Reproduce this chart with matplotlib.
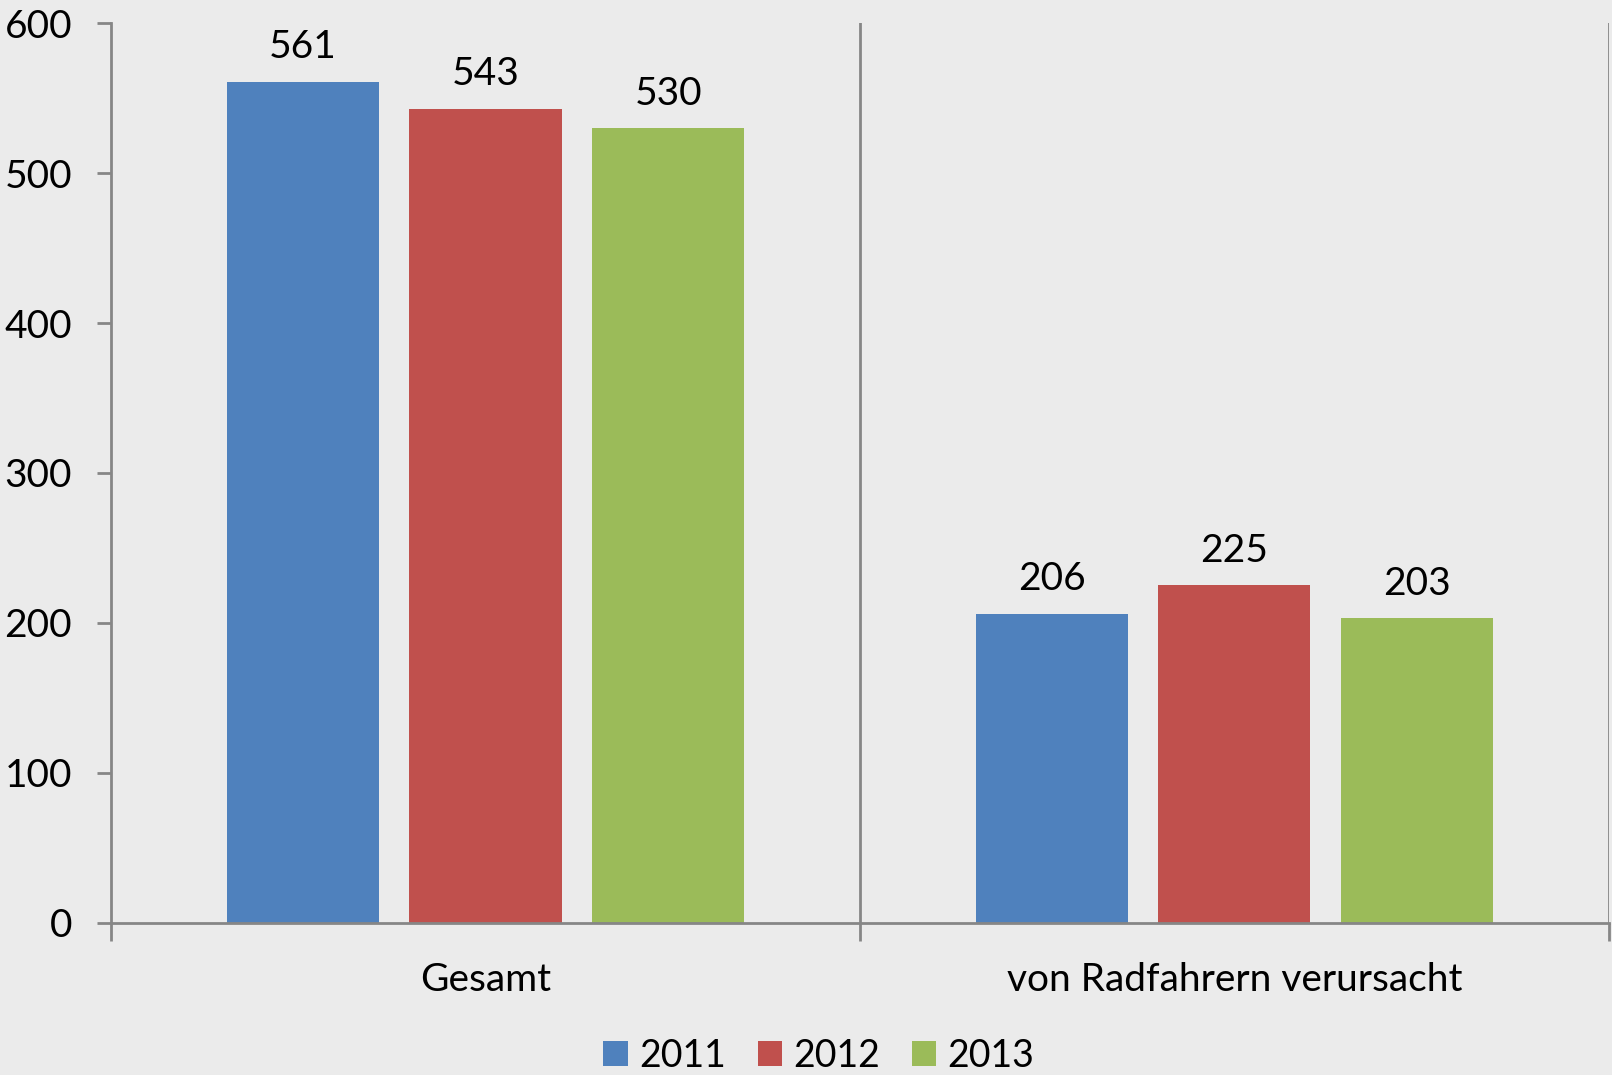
import matplotlib
matplotlib.use("Agg")
import matplotlib.pyplot as plt
import numpy as np

plt.rcParams['font.family'] = ['Lato', 'DejaVu Sans']

# data
categories = ["Gesamt", "von Radfahrern verursacht"]
years = ["2011", "2012", "2013"]
values_2011 = [561, 206]
values_2012 = [543, 225]
values_2013 = [530, 203]
colors = ["#4F81BD", "#C0504D", "#9BBB59"]
bg = "#EBEBEB"
axis_grey = "#868686"

series = [values_2011, values_2012, values_2013]

fig = plt.figure(figsize=(16.12, 10.75), dpi=100, facecolor=bg)
ax = fig.add_axes([0.0689, 0.1414, 0.9291, 0.8372])
ax.set_facecolor(bg)

x = np.arange(len(categories))
width = 0.203
step = 0.244
for k in range(3):
    pos = x + (k - 1) * step
    bars = ax.bar(pos, series[k], width, color=colors[k], label=years[k], zorder=3)
    for b, v in zip(bars, series[k]):
        ax.text(b.get_x() + b.get_width() / 2, v + 11, str(v),
                ha="center", va="bottom", fontsize=28, color="black")

ax.set_xlim(-0.5, 1.5)
ax.set_ylim(0, 600)
ax.set_yticks(range(0, 601, 100))
ax.tick_params(axis="y", labelsize=28, length=10, width=2, color=axis_grey, pad=18)

# category boundaries: ticks and vertical lines
ax.set_xticks([-0.5, 0.5, 1.5])
ax.set_xticklabels([])
ax.tick_params(axis="x", length=13, width=2, color=axis_grey)
for xb in [0.5, 1.5]:
    ax.axvline(xb, color=axis_grey, lw=2, zorder=2)
for i, c in enumerate(categories):
    ax.text(i, -38, c, ha="center", va="center", fontsize=28,
            transform=ax.transData)

for s in ["top", "right"]:
    ax.spines[s].set_visible(False)
for s in ["left", "bottom"]:
    ax.spines[s].set_color(axis_grey)
    ax.spines[s].set_linewidth(2)
    ax.spines[s].set_zorder(4)

leg = fig.legend(loc="center", bbox_to_anchor=(0.508, 0.018), ncol=3, frameon=False,
                 fontsize=27, handlelength=0.65, handleheight=0.65,
                 handletextpad=0.3, columnspacing=0.85)

fig.savefig("out.png", dpi=100, facecolor=bg)
